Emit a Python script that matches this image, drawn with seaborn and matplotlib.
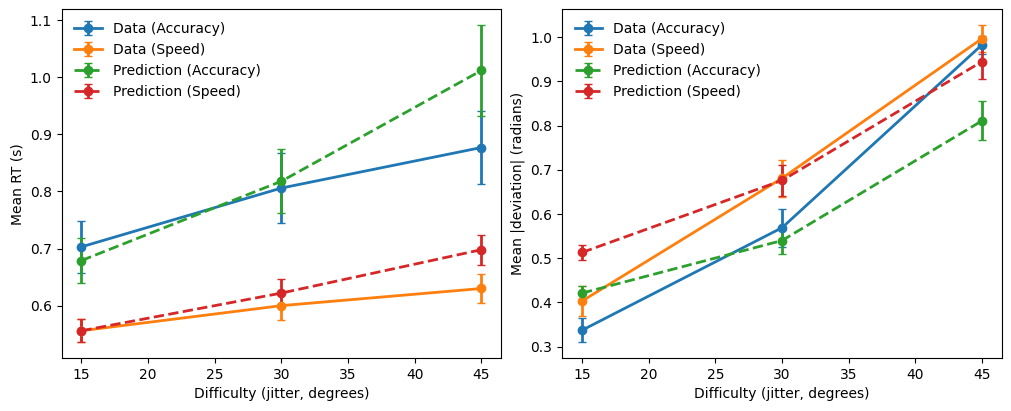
import numpy as np
import matplotlib
matplotlib.use("Agg")
import matplotlib.pyplot as plt
import seaborn as sns

# difficulty levels
difficulty = [15, 30, 45]

# mean RT (s)
rt_data_acc = [0.703, 0.806, 0.877]
rt_data_acc_err = [0.045, 0.061, 0.064]
rt_data_spd = [0.556, 0.600, 0.630]
rt_data_spd_err = [0.020, 0.026, 0.026]
rt_pred_acc = [0.679, 0.818, 1.012]
rt_pred_acc_err = [0.039, 0.056, 0.079]
rt_pred_spd = [0.556, 0.622, 0.698]
rt_pred_spd_err = [0.020, 0.024, 0.026]

# mean |deviation| (radians)
dev_data_acc = [0.337, 0.569, 0.983]
dev_data_acc_err = [0.027, 0.043, 0.020]
dev_data_spd = [0.403, 0.681, 0.997]
dev_data_spd_err = [0.033, 0.042, 0.030]
dev_pred_acc = [0.421, 0.540, 0.811]
dev_pred_acc_err = [0.016, 0.030, 0.044]
dev_pred_spd = [0.513, 0.676, 0.945]
dev_pred_spd_err = [0.018, 0.036, 0.039]

labels = ['Data (Accuracy)', 'Data (Speed)', 'Prediction (Accuracy)', 'Prediction (Speed)']
styles = ['-', '-', '--', '--']

# plain matplotlib look, seaborn only for the palette
sns.reset_orig()
pal = sns.color_palette("tab10")

fig, axes = plt.subplots(1, 2, figsize=(10.11, 4.11), dpi=100)
fig.subplots_adjust(left=61.5 / 1011, right=1002 / 1011, top=1 - 9.5 / 411,
                    bottom=1 - 358 / 411, wspace=0.1377)

panels = [
    ([rt_data_acc, rt_data_spd, rt_pred_acc, rt_pred_spd],
     [rt_data_acc_err, rt_data_spd_err, rt_pred_acc_err, rt_pred_spd_err],
     'Mean RT (s)'),
    ([dev_data_acc, dev_data_spd, dev_pred_acc, dev_pred_spd],
     [dev_data_acc_err, dev_data_spd_err, dev_pred_acc_err, dev_pred_spd_err],
     'Mean |deviation| (radians)'),
]

for ax, (means, errs, ylab) in zip(axes, panels):
    for i in range(4):
        ax.errorbar(difficulty, means[i], yerr=errs[i], fmt='o', linestyle=styles[i],
                    color=pal[i], linewidth=2, capsize=3, label=labels[i])
    ax.set_xlabel('Difficulty (jitter, degrees)')
    ax.set_ylabel(ylab)
    ax.set_xticks([15, 20, 25, 30, 35, 40, 45])
    ax.legend(loc='upper left', frameon=False)

plt.savefig('out.png', dpi=100)
